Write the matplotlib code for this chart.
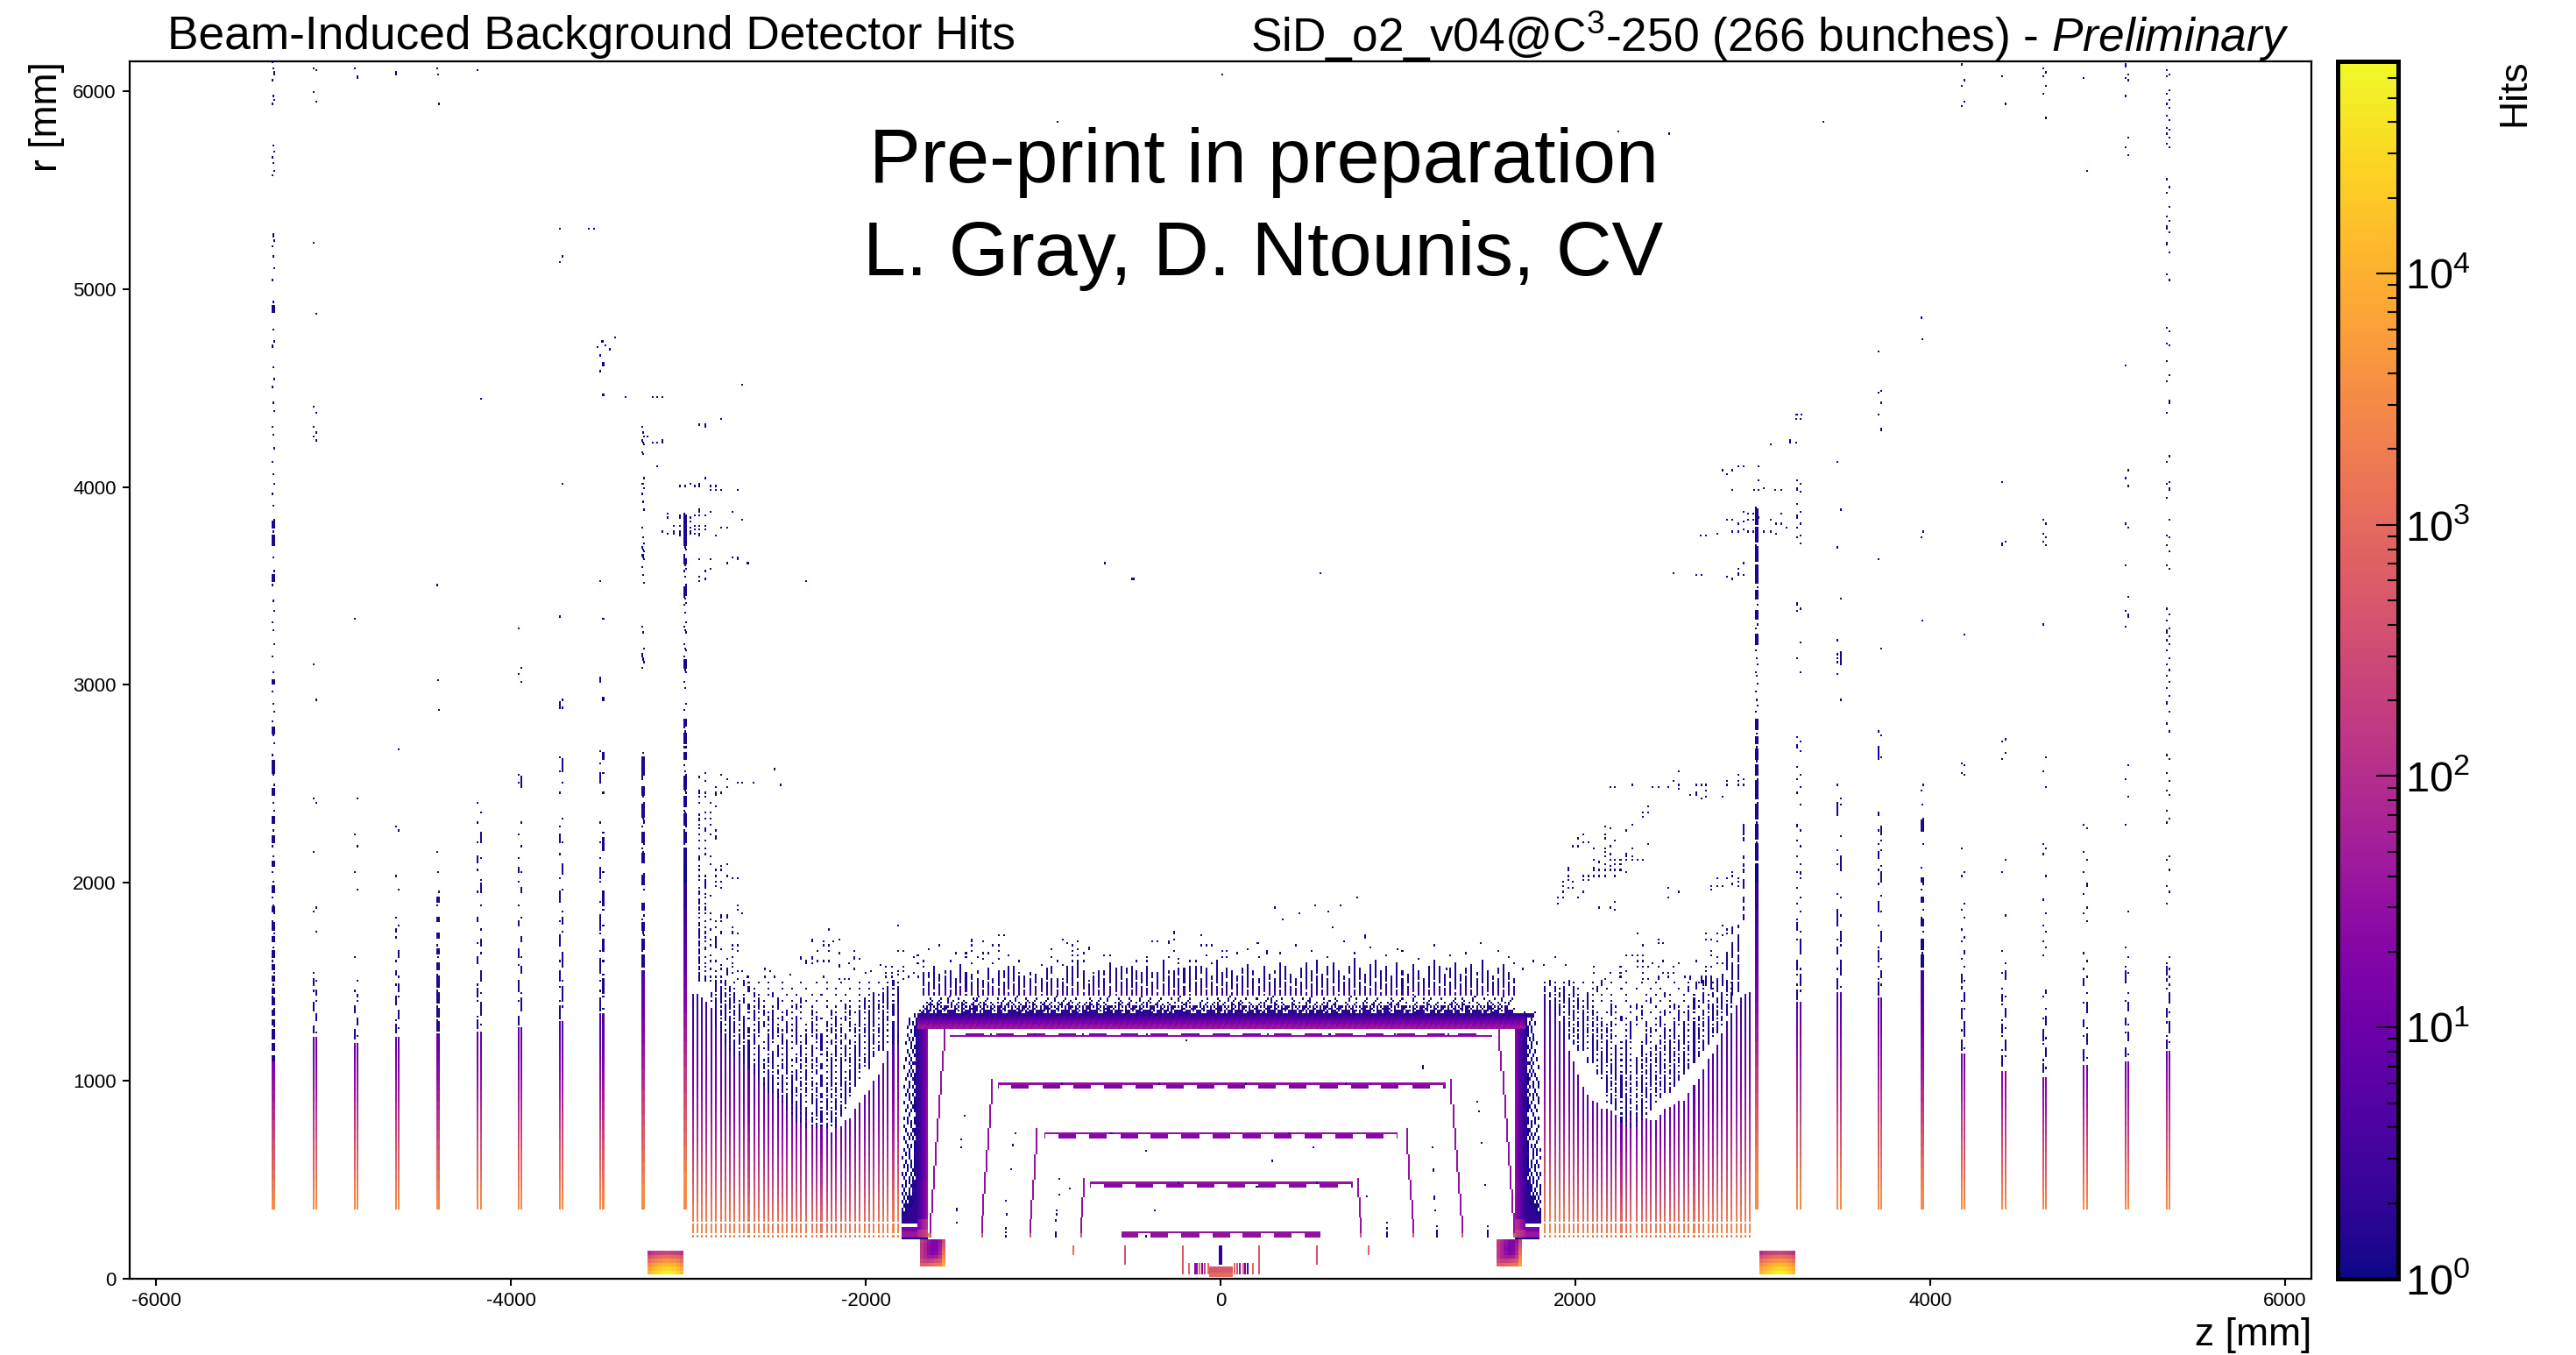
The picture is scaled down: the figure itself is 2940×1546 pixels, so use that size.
import numpy as np
import matplotlib
matplotlib.use("Agg")
import matplotlib.pyplot as plt
from matplotlib.colors import LogNorm
from matplotlib.ticker import FixedLocator, FixedFormatter, NullFormatter

plt.rcParams['font.family'] = ['Liberation Sans', 'DejaVu Sans']
plt.rcParams['mathtext.fontset'] = 'custom'
plt.rcParams['mathtext.rm'] = 'Liberation Sans'
plt.rcParams['mathtext.it'] = 'Liberation Sans:italic'
plt.rcParams['mathtext.default'] = 'regular'
plt.rcParams['axes.unicode_minus'] = False

# All values below are estimates (z, r in mm).
X_TICKS = [-6000, -4000, -2000, 0, 2000, 4000, 6000]
Y_TICKS = [0, 1000, 2000, 3000, 4000, 5000, 6000]
Z_LIM = (-6150, 6150)
R_LIM = (0, 6150)
V_MAX = 69800

TITLE_LEFT = "Beam-Induced Background Detector Hits"
TITLE_RIGHT = "SiD_o2_v04@C$^{3}$-250 (266 bunches) - $\\mathit{Preliminary}$"
NOTE_1 = "Pre-print in preparation"
NOTE_2 = "L. Gray, D. Ntounis, CV"

# ---- muon endcap layers ----
MUON_R_EDGES = [350,400,450,500,550,600,650,700,750,800,850,900,950,1000,1050,1100,1150,1200,1250,1300,1350,1400,1450,1500]
MUON_HITS = [3200,2300,1600,1100,750,520,360,250,170,110,75,50,35,25,18,13,9,7,5,4,3,2,2,1]

MUON_L_Z = [-5340,-5108,-4874,-4644,-4410,-4181,-3949,-3719,-3488,-3253,-3021]
MUON_L_THICK = [1,0,0,0,1,0,0,0,0,1,1]
MUON_L_TOP = [1100,1215,1190,1220,1240,1250,1265,1300,1340,1560,2100]
MUON_L_STRETCH = [1,1,1,1,1,1,1,1,1,.85,.75]
MUON_L_DOTS = [
 [6139,6107,6085,6048,5974,5952,5933,5716,5693,5664,5634,5590,5568,5265,5236,5206,5162,5103,5044,4926,4911,4897,4793,4727,4705,4600,4540,4500,4420,4380,4300,4260,4190,4120,4060,4010,3960,3900,3830,3800,3770,3740,3700,3640,3570,3500,3420,3370,3310,3270,3200,3140,3060,3010,2960,2900,2860,2810,2740,2700,2640,2610,2590,2570,2540,2490,2440,2400,2360,2300,2260,2220,2180,2130,2090,2050,2000,1960,1920,1880,1840,1800,1770,1740,1700,1670,1640,1600,1570,1540,1510,1480,1450,1420,1390,1360,1330,1300,1270,1240,1210,1180,1150,1120],
 [6114,6095,5989,5944,5232,4867,4400,4370,4300,4270,4250,4230,3100,2920,2420,2400,2150,1870,1850,1750,1540,1500,1450,1400,1350,1300,1270,1240],
 [6107,6065,3330,2420,2240,2180,2050,1960,1620,1500,1450,1400,1350,1300,1250,1220],
 [6085,2670,2280,2260,2030,1960,1820,1780,1720,1650,1600,1520,1480,1420,1380,1350,1300,1260,1235],
 [6107,6080,5927,3500,3020,2870,2150,2050,1950,1880,1800,1740,1680,1620,1560,1530,1500,1470,1450,1420,1400,1370,1350,1320,1300,1270],
 [6102,4440,2400,2350,2300,2250,2200,2120,2060,2010,1950,1880,1800,1760,1690,1640,1590,1540,1480,1440,1400,1360,1320,1280],
 [3280,3080,3050,3010,2540,2520,2500,2300,2240,2180,2120,2050,2000,1950,1880,1820,1780,1700,1660,1620,1580,1540,1480,1440,1400,1350,1310],
 [5295,5155,5133,4010,3340,2920,2900,2880,2630,2600,2560,2500,2450,2320,2280,2200,2140,2090,2020,1960,1900,1850,1800,1750,1700,1640,1600,1570,1530,1500,1470,1450,1400,1370,1340],
 [4660,4610,3521,3326,3034,4624,4579,4457,3012,2925,2660,2630,2600,2550,2500,2450,2300,2250,2200,2160,2120,2050,2000,1950,1900,1860,1820,1780,1740,1700,1650,1600,1560,1530,1500,1470,1450,1420,1390,1360],
 [4296,4274,4252,4234,4215,4213,4172,4163,4043,4012,4008,3990,3964,3920,3880,3787,3742,3711,3694,3676,3667,3650,3645,3626,3586,3548,3508,3286,3264,3176,3145,3125,3108,3078,2646,2616,2587,2564,2553,2525,2480,2461,2443,2429,2398,2378,2365,2350,2336,2318,2305,2284,2250,2232,2218,2203,2188,2173,2151,2129,2114,2097,2038,2015,1989,1958,1893,1863,1827,1809,1794,1778,1760,1745,1726,1700,1690,1670,1650,1630,1610,1590,1570],
 [3862,3849,3834,3804,3782,3769,3760,3754,3745,3736,3727,3716,3711,3694,3680,3645,3632,3627,3610,3598,3583,3568,3543,3503,3490,3472,3450,3438,3428,3406,3397,3362,3308,3286,3269,3255,3202,3184,3171,3140,3118,3109,3091,3074,3056,3007,2981,2897,2870,2812,2790,2777,2759,2746,2733,2702,2683,2675,2653,2649,2591,2564,2542,2525,2511,2479,2469,2461,2454,2432,2402,2378,2361,2350,2336,2318,2299,2281,2255,2240,2218,2188,2166,2144,2120,2110],
]
MUON_L_RUNS = [
 [(1100,1130),(1150,1190),(1210,1260),(1280,1310),(1330,1360),(1380,1420),(1440,1470),(1500,1530),(1560,1590),(1620,1660),(1700,1730),(1760,1800),(1850,1880),(1950,1990),(2080,2110),(2200,2240),(2300,2340),(2440,2480),(2550,2620),(2750,2790),(3000,3030),(3520,3560),(3700,3760),(3790,3830),(4880,4920)],
 [(1240,1280),(1300,1340),(1360,1400),(1430,1460),(1480,1520)],
 [(1210,1250),(1280,1320),(1340,1380),(1420,1440)],
 [(1240,1290),(1310,1360),(1390,1430),(1450,1490),(1530,1560),(1620,1650),(1750,1770)],
 [(1250,1300),(1320,1370),(1390,1450),(1470,1530),(1560,1600),(1640,1670),(1720,1750),(1800,1830),(1900,1930)],
 [(1260,1310),(1330,1400),(1420,1470),(1500,1560),(1600,1630),(1680,1720),(1800,1830),(1950,2000),(2100,2140),(2200,2260)],
 [(1280,1330),(1350,1420),(1450,1510),(1540,1580),(1620,1660),(1700,1730),(1780,1810),(1950,1980),(2050,2080),(2480,2540)],
 [(1310,1380),(1400,1480),(1500,1560),(1580,1640),(1680,1740),(1790,1830),(1900,1960),(2040,2090),(2200,2250),(2560,2630),(2880,2920)],
 [(1350,1420),(1440,1520),(1540,1620),(1650,1720),(1760,1840),(1880,1950),(2020,2080),(2160,2230),(2500,2560),(2620,2660),(3010,3040)],
 [(1570,1640),(1660,1720),(1760,1800),(1860,1900),(1990,2040),(2100,2150),(2200,2260),(2330,2400),(2440,2490),(2540,2640)],
 [(2100,2180),(2200,2260),(2290,2350),(2380,2440),(2470,2540),(2620,2660),(2700,2760),(2790,2830),(3080,3130),(3450,3500),(3610,3640),(3700,3860)],
]

MUON_R_Z = [3023,3259,3486,3718,3955,4187,4415,4647,4874,5112,5343]
MUON_R_THICK = [1,0,0,0,1,0,0,0,0,0,0]
MUON_R_TOP = [2100,1400,1450,1415,1560,1140,1050,1020,1080,1100,1150]
MUON_R_STRETCH = [.75,.9,.9,.9,.9,1,1.05,1.1,1.05,1.05,1]
MUON_R_DOTS = [
 [3888,3870,3850,3820,3790,3770,3750,3740,3720,3700,3680,3660,3640,3620,3600,3577,3520,3490,3470,3450,3400,3360,3340,3300,3280,3240,3210,3170,3130,3100,3060,3040,3000,2960,2920,2890,2860,2812,2800,2770,2750,2720,2700,2680,2660,2640,2610,2590,2570,2550,2520,2490,2470,2450,2430,2420,2400,2380,2360,2340,2320,2300,2290,2270,2250,2240,2220,2200,2180,2160,2150,2130,2110],
 [4360,4339,4028,4006,3985,3972,3909,3867,3845,3809,3787,3753,3738,3710,3405,3383,3366,3207,3126,3061,2730,2710,2685,2661,2582,2538,2523,2483,2453,2394,2285,2260,2206,2183,2127,2088,2048,2018,1969,1920,1890,1850,1811,1752,1712,1650,1600,1560,1530,1510,1480,1450,1420],
 [4118,3884,3693,3431,3216,3158,3148,3138,3128,3118,3108,3098,3046,2918,2493,2424,2404,2388,2345,2226,2163,2127,2092,2068,1935,1920,1860,1827,1781,1752,1712,1682,1640,1600,1560,1530,1500,1470],
 [4682,4478,4468,4420,4360,4285,3630,3175,2760,2740,2677,2631,2345,2281,2256,2206,2186,2157,2121,2078,2058,2009,1989,1933,1900,1850,1781,1732,1672,1613,1570,1540,1510,1480,1450],
 [4850,4736,3770,3738,3319,2493,2459,2394,2315,2281,2262,2192,2068,2018,1989,1959,1906,1860,1821,1781,1752,1702,1643,1603,1580],
 [6132,6050,6024,5938,5917,3250,2602,2592,2552,2538,2167,2048,2034,1890,1860,1821,1762,1722,1702,1643,1613,1574,1534,1495,1465,1435,1396,1356,1317,1287,1250,1220,1190,1160],
 [6067,5934,4017,3720,3705,2716,2710,2651,2617,2107,2052,1827,1649,1593,1544,1514,1455,1415,1376,1336,1297,1257,1218,1180,1150,1120,1080],
 [6110,6089,6067,6024,5977,5857,3834,3813,3764,3738,3716,3699,3302,2631,2556,2479,2192,2171,2137,2028,1910,1841,1781,1752,1696,1669,1633,1445,1415,1356,1307,1277,1238,1208,1178,1139,1100,1060],
 [6063,5590,2289,2266,2147,2107,2048,1985,1935,1870,1841,1795,1643,1603,1564,1524,1485,1435,1386,1336,1297,1257,1218,1178,1140,1110],
 [6125,6078,6063,6046,5971,5762,5713,5670,4614,4081,4038,3995,3806,3791,3602,3441,3366,3345,3287,2586,2523,2434,2289,1850,1672,1623,1574,1544,1494,1435,1396,1356,1307,1277,1237,1198,1158,1130],
 [6099,6084,6067,6003,5981,5949,5928,5906,5874,5848,5814,5795,5777,5762,5734,5706,5548,5509,5477,5412,5359,5337,5305,5279,5225,5176,5069,5041,4800,4783,4719,4708,4629,4564,4526,4425,4371,4146,4124,4023,4006,3985,3935,3828,3748,3742,3695,3673,3598,3577,3383,3351,3323,3283,3265,3237,3218,3201,3173,3130,3104,3072,3040,3014,2975,2939,2905,2864,2800,2760,2641,2617,2552,2513,2463,2444,2355,2315,2301,2127,2107,2064,1979,1953,1890,1617,1593,1564,1544,1524,1505,1475,1455,1386,1356,1336,1293,1247,1218,1190,1165],
]
MUON_R_RUNS = [
 [(2110,2200),(2220,2300),(2320,2400),(2420,2520),(2540,2600),(2620,2680),(2700,2740),(2770,2830),(3200,3260),(3330,3380),(3430,3480),(3510,3610),(3620,3700),(3720,3800),(3810,3890)],
 [(1410,1460),(1480,1540),(1560,1610),(1640,1720),(1760,1800),(2040,2060)],
 [(1460,1520),(1540,1600),(1640,1680),(1700,1750),(1790,1860),(2060,2130),(2360,2400),(3100,3160)],
 [(1430,1500),(1520,1560),(1600,1660),(1700,1760),(1850,1900),(2000,2060),(2120,2160),(2240,2290),(2620,2680)],
 [(1570,1640),(1660,1720),(1780,1820),(1900,1930),(2000,2030),(2260,2320)],
 [(1150,1210),(1230,1290),(1310,1370),(1400,1450),(1490,1530),(1640,1660)],
 [(1070,1130),(1150,1210),(1240,1290),(1320,1370),(1400,1440),(1510,1560)],
 [(1040,1090),(1120,1170),(1200,1260),(1290,1330)],
 [(1100,1160),(1190,1240),(1270,1310),(1350,1400),(1480,1520)],
 [(1120,1170),(1200,1250),(1280,1320),(1350,1400),(1500,1560)],
 [(1160,1210),(1240,1300),(1320,1370),(1400,1450),(1530,1580)],
]

# ---- hadronic endcap comb ----
HCAL_Z = [2982,2956,2930,2903,2877,2849,2822,2796,2770,2743,2717,2689,2663,2636,2610,2582,2556,2529,2501,2475,2449,2422,2394,2368,2342,2305,2279,2253,2226,2200,2174,2146,2119,2093,2065,2039,2012,1986,1958,1931,1905,1879,1851,1824]
HCAL_L_TOP = [1435,1435,1420,1400,1370,1265,1250,1236,1206,1147,1147,1147,1117,1088,1044,1014,955,955,955,926,926,941,882,882,852,778,763,778,763,734,763,763,793,808,852,882,926,941,1000,1029,1088,1147,1265,1420]
HCAL_R_TOP = [1450,1440,1420,1380,1340,1300,1240,1180,1140,1110,1060,1010,980,940,900,900,880,870,860,830,800,800,810,830,840,830,810,800,830,850,860,860,890,900,930,970,1030,1100,1150,1240,1300,1360,1400,1430]
HCAL_R_EDGES = [210,250,300,350,400,450,500,550,600,650,700,750,800,850,900,950,1000,1050,1100,1150,1200,1250,1300,1350,1400,1450]
HCAL_HITS = [3000,2300,1600,1050,700,460,310,200,140,95,70,48,35,25,18,13,10,8,6,5,4,3,2.5,2,1.5,1]
HCAL_GAP_R = [220,280]
HCAL_MAP_R = [1480,1450,1420,1390,1360,1330,1300,1270,1240,1210,1180,1150,1120,1090,1060,1030,1000,970,940,910,880,850,820,790,760]
HCAL_L_MAP = [
 "     |.| . |. . .  .   .  . .  .   . . . .|.||.",
 "     ||.|.  |.  .  . .  .   . .  . . .  .|.| ||",
 "    |.||.| . |. .|  . .  . .  . .  . .|.||.||",
 "    .||.||.| .|.  |. . |. . .  . . .|.|.||.|",
 "     |.||.| |.|. .|  .|. .  . . |. .|.||.||",
 "     |||.|| .|.|.| .|. . |.  |. .|.|.||.|.|",
 "     |.||.||.|. ||.| .|. .|. .|.|. |.||.||",
 "     ||.||.| .||.|. |.| .|. |.|. |.|.||.|.|",
 "      |.||.||.| .||.|.| .|. .|.| .|.||.||.|",
 "       ||.||.|. ||.| .|.|.||. |.| .|.||.|.||",
 "       |.||.|| .|. ||.|.| .|.|.| |.|.||.|.||",
 "        ||.||.|.| |.|. |.|.|. |.|.||.|.||",
 "         |.||.| .||.| .|.| .|.|.|.||.||",
 "           ||.|.|| .|.|.|.| .|.|.||.||",
 "            |.||.|.||. |.|.|.|.| .||.|",
 "             ||.|.| |.|.|.| .|.|.||.",
 "              |.||.|.||.|. |.|.|.||.",
 "               .||.|.| |.|.|.|.||.|",
 "                ||.|.||.|.| |.|.||",
 "                  |.||.|.|.|.|.||.",
 "                   .||.|.||.|.|.|",
 "                    |.||. |.|.||.",
 "                     .|.|.||.|.|",
 "                      ||.|.|.||",
 "                        |.|.|.|",
]
HCAL_R_MAP = [
 "    .|  . |. .  .   .  .  .  . | . . .|. .|.|.",
 "    .| |. .  | .   . .  .  .  . |.  .| |.| |.",
 "    |.| |.| . .  .| . .   .  . . .| .|.||.|.|",
 "    |.|| .|.| .  . . |.   .  . . .|.|.||.|.",
 "    .||.|| .|. .|.  .  .|.  .|   .|.|.|.||",
 "     |.||.| .|.| .|. . | .  .|. .|.|.||.||",
 "      |.||.|.| |.  |.  .| .|.  .|.||.|.|",
 "      .|.||.|.|.| .|. | .|. .|.|.|.||.||",
 "       |||.||.| |.| .|.  |.  .|.|.||.|.|",
 "        .|.||.|.|.|. .|  |. .|.|.|.||.||",
 "         ||.|.||.|.| .|. .|. .|.||.|.|",
 "          |.||.|.||.|. | .|.|.|.||.||",
 "           ||.|.||.|.|.| .|.|.||.|",
 "            |.||.|.||.|.|.|.|.||.||",
 "             ||.|.||.|.||.|.||.|.",
 "              |.||.|.||.|.|.||.||",
 "               ||.|.||.|.|.||.|.",
 "                |.||.|.||.||.||",
 "                 ||.|.||.|.||.|",
 "                   |.||.|.||.|.",
 "                    .|.|.||.||.",
 "                     |.||.|.|",
 "                      .|.||.",
 "                       .|.||",
 "                        .|.",
]

# sparse hits above the left comb
L_COMB_Z = [-2943,-2908,-2878,-2849,-2819,-2785,-2755,-2725]
L_COMB_DOTS = [
 [2533,2463,2449,2427,2401,2343,2321,2312,2290,2269,2241,2210,2173,2125,2107,2082,2060,2033,2007,1971,1945,1905,1891,1874,1856,1841,1819,1785,1763,1745,1726,1715,1700,1690,1680,1657,1645,1636,1620,1605,1590,1570,1555,1540,1525,1510,1500],
 [2551,2511,2454,2427,2347,2316,2269,2256,2210,2173,2139,2029,2011,2000,1990,1980,1971,1937,1922,1891,1865,1838,1804,1767,1745,1716,1697,1674,1657,1623,1590,1568,1546,1524,1510,1500],
 [2396,2347,2316,2290,2237,2126,2091,1927,1838,1812,1763,1708,1679,1626,1595,1555,1524,1502],
 [2476,2454,2443,2378,2256,2225,2063,2029,1998,1976,1798,1767,1723,1712,1700,1690,1679,1668,1595,1550,1524,1502],
 [2538,2454,2077,2060,1998,1967,1825,1798,1745,1657,1581,1555,1524,1502],
 [2520,2476,2091,2029,1825,1608,1561,1550,1540,1530],
 [2015,1767,1745,1683,1657,1621,1590,1568,1539],
 [2502,2020,1883,1856,1744,1679,1648,1546,1509],
]
SCATTER_Z = [-3449,-3360,-3205,-3180,-3151,-2701,-2820,-2943,-2909,-3235,-3205,-3180,-3151,-3180,-2909,-3057,-3027,-2997,-2968,-2943,-2943,-2879,-2849,-2879,-2849,-2820,-2726,-2943,-2943,-2879,-2755,-3121,-3057,-2968,-2943,-2909,-3121,-3057,-2997,-2997,-2701,-3086,-3057,-2968,-2943,-2909,-2820,-2785,-2997,-2968,-2943,-2909,-3151,-3086,-3057,-3121,-3057,-3086,-3057,-2997,-2997,-2968,-2943,-2943,-2849,-2943,-2879,-2755,-2726,-2726,-2785,-2671,-2909,-2879,-2943,-2909,-2943,-2340,-3565,-3535,-3421,-3489,-3477,-3515,-655,-505,-495,560,3,-923,2240,
 -2701,-2641,-2518,-2483,-2701,-2701,-2671,-2577,-2577,-2547,-2518,-2429,-2370,-2370,-2340,-2340,-2305,-2305,-2305,-2305,-2276,-2276,-2246,-2246,-2246,-2246,-2216,-2216,-2216,-2216,-2192,-2157,-2157,-2157,-2157,-2157,-2127,-2098,-2098,-2068,-2068,-2068,-2068,-2038,-2004,-1974,-1920,-1890,-1890,-1890,-1856,-1856,-1856,-1826,-1826,-1826,-1826,-1796,-1796,-1796,-1796,-1767,-1737,-1737,-1712,-1712,-1712,-1678,-1678,-1678,-1648,-1648,-1619,-1619,-1589,-1554,-1525,-1525,-1495,-1495,-1470,-1470,-1470]
SCATTER_R = [4686,4446,4446,4454,4452,4513,4340,4309,4305,4252,4216,4216,4225,4101,4039,3995,4004,4008,4004,4008,3995,4004,4004,3982,3982,3982,3982,3880,3866,3866,3866,3862,3853,3853,3849,3853,3840,3840,3835,3818,3831,3800,3800,3800,3804,3800,3791,3791,3787,3778,3782,3782,3769,3773,3769,3760,3756,3756,3751,3765,3756,3760,3760,3751,3751,3632,3632,3640,3640,3632,3610,3614,3570,3578,3539,3530,3517,3517,5300,5300,4749,4727,4712,4697,3614,3530,3530,3560,6075,5838,5790,
 2502,2502,2569,2494,1843,1546,1524,1555,1524,1546,1515,1528,1621,1608,1604,1590,1705,1623,1608,1590,1649,1595,1697,1679,1595,1515,1759,1679,1652,1595,1701,1714,1635,1581,1568,1509,1509,1590,1509,1652,1621,1608,1559,1608,1541,1546,1577,1573,1541,1515,1573,1541,1515,1781,1652,1550,1528,1652,1568,1546,1509,1515,1621,1537,1626,1590,1515,1595,1568,1530,1657,1520,1568,1530,1679,1530,1604,1530,1639,1515,1580,1545,1510]

# sparse hits above and beyond the right comb
R_SCATTER_Z = [2581,2551,2581,2581,2314,2195,2220,2432,2467,2521,2675,2704,2729,2852,2852,2917,2917,2917,2946,2946,2645,2675,2675,2729,2704,2729,2823,2403,2403,2373,2373,2314,2166,2195,2279,2042,2012,2166,2166,2042,2072,2220,2403,1978,2012,2101,2166,2195,2314,2166,2166,2195,2279,2279,2314,2101,2195,2220,2250,2279,2314,2343,2373,2131,2131,2166,2166,2195,2220,2250,2101,2195,2220,2250,2279,1953,1953,2042,2072,2101,2131,2166,2220,2042,2072,1953,1924,1978,1924,1953,1978,1924,2042,1894,1924,2012,1894,2131,2195,2220,2220,2521,2581,2521,2759,2759,2793,2793,2823,2852,2882,2882,2882,2917,2917,2917,
 3396,2523,3242,3271,3242,3095,3207,3242,2824,2851,2882,2917,2945,3029,3029,2882,3003,3029,3060,3121,3154,2851,2882,2945,2945,2970,2970,3001,3001,2917,3029,3095,3126,3154,3154,3183,2882,2917,2945,2970,3001,3060,3095,3126,2702,2728,2794,2945,2917,2917,2945,2917,2851,2882,2552,2675,2704,
 2343,2467,2467,2492,2373,2279,2314,2343,2373,2343,2373,2343,2373,2403,2432,2492,2467,2581,2551,2101,2250,2195,2250,2279,2373,2492,2521,2551,2101,2166,2250,2373,2403,2467,2467,2521,2615,2645,2645,2729,2759,2729,2729,2759,2675,2729,2729,2759,2793,2823,2852,2852,2823,2793,2759,2759,2793,2793,2823,
 300,439,532,606,670,763,346,625,207,810,254,995,1458,1272]
R_SCATTER_R = [2555,2511,2493,2471,2489,2476,2476,2476,2480,2480,2493,2493,2493,2507,2489,2542,2507,2489,2524,2489,2440,2454,2440,2462,2423,2431,2431,2378,2352,2352,2330,2288,2281,2272,2259,2237,2223,2237,2223,2201,2201,2206,2192,2175,2175,2170,2170,2179,2170,2148,2130,2144,2139,2130,2130,2113,2113,2108,2113,2108,2113,2113,2113,2095,2060,2088,2064,2082,2091,2091,2065,2064,2060,2060,2046,2065,2033,2033,2033,2033,2029,2033,2033,2011,2011,2011,2002,2002,1980,1974,1971,1949,1949,1918,1922,1922,1887,1874,1874,1896,1860,1974,1949,1918,1984,1958,2015,1980,1984,2015,2051,2029,1986,2015,1998,1984,
 5842,5784,4358,4358,4339,4212,4225,4219,4083,4064,4075,4100,4100,4100,4034,3980,3978,3978,3991,3980,3980,3830,3830,3866,3819,3862,3830,3862,3830,3806,3839,3830,3808,3808,3862,3787,3774,3770,3780,3770,3770,3770,3770,3755,3753,3753,3757,3609,3581,3549,3549,3561,3538,3534,3559,3549,3549,
 1736,1714,1688,1688,1679,1626,1626,1626,1626,1595,1595,1572,1568,1568,1586,1595,1572,1590,1568,1568,1568,1541,1541,1546,1541,1541,1541,1541,1541,1510,1515,1510,1510,1524,1510,1515,1515,1524,1510,1568,1568,1546,1524,1510,1603,1736,1714,1714,1736,1730,1736,1759,1781,1700,1652,1626,1620,1590,1590,
 1870,1836,1878,1853,1878,1920,1810,1770,1686,1725,1645,1660,1686,1561]
R_RUN_Z = [2946,2946,2946,2946,2946,2946,2946,2946,2946,2917,2917,2917,2917,2917,2882,2882,2882,2882,2852,2823,2793,2759,2729,2704,2675]
R_RUN_LO = [2237,2210,2122,2077,2047,1967,1900,1856,1811,1770,1650,1600,1510,1450,1740,1620,1510,1430,1560,1480,1470,1460,1480,1490,1460]
R_RUN_HI = [2303,2228,2139,2099,2068,2015,1927,1885,1841,1789,1740,1640,1590,1500,1775,1700,1600,1500,1650,1540,1520,1530,1530,1530,1500]

# ---- noise above the barrel calorimeter ----
BARREL_MAP_R = [1325,1345,1365,1385,1405]
BARREL_MAP_Z0 = -1720
BARREL_MAP = [
 " :#:##:###:##:#####:###:####:##:###:#####:###:##:####:###:#####:##:####:###:###:#####:##:####:###:####:##:#####:###:##:####:###:#####:##:###:####:###:##:#####:###:####:###:##:",
 " .:#.:#:.##:.:#:#.:##:.#:.##:#.:#:##.:#:.##:#:.#:##:.:#:##.#:.#:##:.#:#.:##:#:.#:.##:#.:#:##:.#:#.:##:#:.##:#.:#:##.:#:.##:#.:##:.#:#:.##:#.:##:.#:#.##:#:.#:##:#.:#:.##:",
 "  .::.:.#..:.:.:#:.:.:.#.:.:.:#..:.:#:..:.:#.:.:#:.:.:#..:.:.#.:..#:.:.:#..:..#..:.:.#:..:.:#.:.:..#.:.:#.:..#..:.:#.:.#.:.:..#.:.:.#:.:.#..:.#.:.:.#.:.:.:#..:..#:.:.#",
 "   .: :. .: .:. : .: . .: :. . :.: .: . .: :. . .: : .  .:. : . .:. :  . . .:.  : . .: . : :. .  .: .: .  : . :. . .: :  .  . :. : . .: : .  . .:  . . :. : . .  :. . .: ",
 "    .  . :  .   .:  .  . .  :  .  .  . :  .  .   .  . :  .  .  :  .  .  . :  .    .  .  : .  .  .  .:  .  .  . :   .  .   : .  .  .   .  .  :  . .  .   . .  :  .  . :  . ",
]
BARREL_COL_Z = [-1678,-1648,-1619,-1589,-1555,-1525,-1495,-1471,-1441,-1411,-1377,-1347,-1317,-1288,-1253,-1223,-1199,-1169,-1140,-1110,-1075,-1046,-1016,-986,-962,-927,-897,-868,-838,-809,-774,-744,-720,-690,-660,-626,-596,-566,-537,-507,-482,-448,-418,-389,-359,-324,-295,-265,-240,-211,-181,-146,-117,-87,-57,-23,7,31,
 61,91,121,151,181,211,241,271,301,331,361,391,421,451,481,511,541,571,601,631,661,691,721,751,781,811,841,871,901,931,961,991,1021,1051,1081,1111,1141,1171,1201,1231,1261,1291,1321,1351,1381,1411,1441,1471,1501,1531,1561,1591,1621,1651]
BARREL_COL_TOP = [1546,1546,1568,1539,1558,1558,1531,1590,1553,1539,1561,1509,1568,1524,1561,1561,1575,1575,1546,1531,1546,1539,1524,1568,1575,1516,1516,1575,1575,1598,1561,1509,1546,1561,1561,1590,1568,1575,1572,1575,1561,1546,1583,1546,1546,1598,1561,1561,1572,1572,1575,1575,1575,1568,1531,1598,1546,1568,
 1560,1530,1570,1590,1555,1520,1575,1540,1565,1600,1580,1545,1525,1570,1595,1560,1610,1540,1575,1600,1560,1530,1585,1620,1570,1545,1590,1610,1555,1575,1530,1600,1565,1540,1590,1560,1530,1575,1610,1585,1545,1570,1600,1540,1570,1590,1550,1610,1560,1530,1570,1590,1550,1520]
BARREL_COL_GAP = [1470,1505,1450,1490,1530,1462,1515,1480,1440,1500,1525,1458,1495,1475]
BARREL_DOT_Z = [-1826,-1826,-1797,-1920,-1891,-1856,-1797,-1737,-1713,-1713,-1678,-1648,-1589,-1525,-1495,-1441,-1441,-1411,-1411,-1411,-1411,-1377,-1347,-1347,-1347,-1317,-1288,-1288,-1253,-1223,-1253,-1253,-1253,-1199,-1140,-1016,-962,-962,-927,-897,-897,-868,-838,-838,-838,-838,-809,-809,-809,-809,-774,-774,-744,-660,-626,-626,-482,-418,-418,-389,-359,-324,-295,-295,-295,-265,-265,-265,-240,-240,-181,-146,-117,-117,-87,-57,-87,-57,-23,7,7,31,31,
 91,151,211,331,421,511,601,691,751,841,931,1021,1111,1201,1291,1381,1471,1561,1621,1651,1700,1760,1820,1880,1940]
BARREL_DOT_R = [1781,1648,1648,1577,1572,1572,1568,1621,1626,1590,1595,1655,1679,1603,1639,1639,1621,1705,1679,1652,1590,1617,1701,1639,1612,1637,1679,1590,1732,1732,1679,1648,1608,1626,1595,1577,1661,1621,1595,1711,1577,1688,1679,1646,1627,1595,1701,1657,1634,1595,1639,1603,1665,1626,1634,1586,1595,1621,1595,1701,1701,1595,1701,1688,1620,1745,1714,1652,1608,1590,1603,1603,1732,1683,1683,1683,1626,1590,1595,1648,1617,1648,1617,
 1640,1660,1620,1640,1680,1650,1620,1700,1640,1670,1630,1650,1610,1680,1630,1640,1600,1650,1620,1590,1560,1600,1575,1620,1580]

# ---- calorimeter "tub" around the trackers ----
TUB_Z_LEFT_INNER = -1650
TUB_Z_RIGHT_INNER = 1660
TUB_R_EDGES = [210,250,300,500,1000,1258]
TUB_HITS = [
 [300,200,150,120,100,80],
 [100,80,60,40,25,15],
 [30,20,12,7,4,3],
 [25,15,8,5,3,2],
 [20,12,7,4,3,2],
]
TUB_TOP_R = [1258,1268,1278,1288,1298,1308,1318,1328]
TUB_TOP_HITS = [40,35,25,15,9,5,3,2]
TUB_TEXTURE = [1.2,.8,1.0,1.4,.7,1.1,.9,1.3,.75,1.05,1.25,.85,.95,1.15]
TUB_FOOT_R = [210,235,260]
TUB_FOOT_HITS = [40,15]
TUB_MAP_R_TOP = 1320
TUB_L_MAP = [
 "       + ","    +   #","    + + +","   +   ##","     + +#","   +   +#","    + + #","  +  +  +","     + +#",
 "   +  + #","    +  +#","  +  +  #","    + +##"," +   +  #","    + + #","   + + +#","  +   #+#","    +  +#",
 " +  + + #","   +   +#","  + + + #","    +  +#"," +   + +#","   +  ++#","  +  + +#","    +   #"," + +   +#",
 "   + + +#"," +   +  #","  +   #+#","   + + +#"," +  + + #","  +    +#","   + + +#"," +  +  +#","  + +  ##",
 "+   +  +#","  +  + +#"," + + + +#","   +  +##","+ +  + +#"," +  + + #","  + + +##","+ +  +#+#"," +  + ###",
 "+ + + +##"," + +#+###","+ + +#+##"," +#+#+###","+ +######","+#+######","#########","#########",
]
TUB_R_MAP = [
 "+        ","#  +     ","+ +  +   ","## +     ","#+ +     ","#+  +    ","# + +    ","+  +  +  ","#+ +     ",
 "# +  +   ","#+  +    ","#  +  +  ","##+ +    ","#  +   + ","# + +    ","#+ + +   ","#+#   +  ","#+  +  + ",
 "# + +  + ","#+   +   ","# + + +  ","#+  +  + ","#+ +   + ","#++  +   ","#+ +  +  ","#   +    ","#+   + + ",
 "#+ + +   ","#  +   + ","#+#   +  ","#+ + +   ","# + +  + ","#+    +  ","#+ + +   ","#+  + + +","##  + +  ",
 "#+  +   +","#+ +  +  ","#+ + + + ","##+  +   ","#+ +  + +","# + +  + ","##+ + +  ","#+#+  + +","###+ +  +",
 "##+ + + +","###+#+ + ","##+#+ + +","###+#+#+ ","######+ +","######+#+","#########","#########",
]

# ---- tracker barrel layers ----
TRK_R = [1220,962,712,462,214]
TRK_RMID = [1230,976,726,476,229]
TRK_RTOP = [1240,990,740,490,243]
TRK_Z_L = [-1525,-1255,-995,-735,-561]
TRK_Z_R = [1530,1269,998,745,565]
TRK_UPPER_IS_SOLID = [0,1,1,1,1]
TRK_HITS_SOLID = [28,30,32,32,35]
TRK_HITS_BUMP = [14,18,22,25,30]
TRK_MODULE_Z = [-1387,-1217,-1040,-867,-690,-517,-343,-170,3,173,350,523,697,870,1043,1216,1390]
TRK_MODULE_SHIFT = [0,87,0,87,0]
TRK_MODULE_HALF = 50
TRK_SPECK_Z = [-1300,-1050,-780,-420,-130,260,610,980,1280,-900,-350,140,700,-1160,-620,380,-240,540]
TRK_SPECK_L = [0,0,0,0,0,0,0,0,0,1,1,1,1,2,2,2,3,3]

# ---- forward disks: stepped r edges and z of each step ----
DISK_R = [
 [208,330,450,570,690,810,930,1050,1150,1258],
 [208,320,430,540,650,760,880,1010],
 [208,300,400,500,630,758],
 [208,310,410,507],
 [208,310,410,507],
 [208,300,400,500,630,758],
 [208,320,430,540,650,760,880,1010],
 [208,330,450,570,690,810,930,1050,1150,1258],
]
DISK_Z = [
 [-1640,-1628,-1620,-1610,-1600,-1590,-1580,-1570,-1560],
 [-1352,-1345,-1335,-1325,-1315,-1305,-1295],
 [-1075,-1068,-1058,-1048,-1038],
 [-790,-783,-775],
 [785,780,772],
 [1080,1073,1065,1055,1045],
 [1362,1352,1342,1332,1322,1312,1297],
 [1650,1640,1630,1620,1610,1600,1590,1575,1563],
]
DISK_HITS = 32
DISK_FOOT_HITS = 500

# ---- isolated hits inside the trackers ----
ISO_Z = [-198,1134,-1446,-1463,-1467,-1175,-1186,-915,-857,-915,-1214,-1210,-1491,-1491,-1488,-1214,-1214,-1214,-929,-929,-936,-936,-936,-423,-423,520,284,201,-375,1442,1449,1466,1189,1196,1484,1199,1206,818,936,936,936,936,1213,1213,1213,1213,1501,1501,1501,1501]
ISO_R = [1196,1065,817,700,657,669,549,496,449,417,387,321,335,350,276,210,230,250,340,320,290,225,212,638,214,657,589,461,338,892,842,675,660,545,471,405,343,409,280,250,225,212,260,240,225,212,260,240,225,212]

# ---- very-forward boxes ----
OUTER_BOX_Z_L = -3230
OUTER_BOX_Z_R = 3040
OUTER_BOX_R0 = 15
OUTER_BOX_HITS = [
 [12000,20000,28000,38000,50000,65000,60000,45000,28000,15000],
 [7000,11000,16000,20000,26000,30000,28000,22000,15000,9000],
 [3000,5000,7000,9000,12000,13000,12000,10000,7000,4000],
 [1200,1800,2500,3200,4000,4500,4000,3500,2500,1500],
 [400,600,800,1000,1200,1300,1200,1000,800,500],
 [100,150,200,230,250,280,250,220,180,120],
]
INNER_BOX_Z_L = -1697
INNER_BOX_Z_R = 1555
INNER_BOX_R0 = 58
INNER_BOX_HITS = [
 [800,700,900,1200,1500,1800,8000],
 [300,200,180,250,350,500,5000],
 [150,80,50,45,60,150,2500],
 [150,70,30,20,25,80,1500],
 [150,70,25,15,20,60,800],
 [150,80,30,18,20,50,500],
 [200,100,35,20,20,40,300],
]

# ---- vertex / forward strips ----
STRIP_Z = [-835,-546,-215,210,541,832,-185,-151,-141,-126,-111,-96,-77,76,91,106,126,136,151,180,-8,2]
STRIP_R_LO = [117,72,22,22,72,117,18,18,18,18,18,18,18,18,18,18,18,18,18,18,70,70]
STRIP_R_HI = [173,173,173,173,173,173,80,80,80,80,80,80,80,80,80,80,80,80,80,80,168,168]
STRIP_HITS = [1100,400,500,500,400,900,1000,25,25,1200,20,250,1100,1100,400,30,1000,18,5,1000,2,2]
VTX_BAND_Z = (-67, 71)
VTX_BAND_R_LO = [14,30,50]
VTX_BAND_R_HI = [27,47,62]
VTX_BAND_HITS = [1100,450,500]

# ---------------------------------------------------------------------------
DZ, DR = 5, 10
NZ = int((Z_LIM[1] - Z_LIM[0]) / DZ)
NR = int((R_LIM[1] - R_LIM[0]) / DR)
H = np.full((NR, NZ), np.nan)


def put(z0, z1, r0, r1, v):
    a = int(round((z0 - Z_LIM[0]) / DZ))
    b = max(a + 1, int(round((z1 - Z_LIM[0]) / DZ)))
    c = int(round(r0 / DR))
    d = max(c + 1, int(round(r1 / DR)))
    H[c:d, a:b] = v


def dot(z, r, v=1):
    put(z, z + 10, r, r + 10, v)


def step_value(r, edges, vals):
    i = np.searchsorted(edges, r, side='right') - 1
    return vals[int(np.clip(i, 0, len(vals) - 1))]


def muon(zs, thick, tops, stretch, dots, runs):
    for z, th, top, k, rs, rn in zip(zs, thick, tops, stretch, dots, runs):
        strips = [(z - 10, z + 10)] if th else [(z - 13, z - 3), (z + 4, z + 14)]
        for r in range(350, top, 10):
            v = step_value(r * k, MUON_R_EDGES, MUON_HITS)
            for s0, s1 in strips:
                put(s0, s1, r, r + 10, v)
        for i, r in enumerate(rs):
            if th:
                dot(z - 10 + 5 * (i % 3), r)
            else:
                s0, s1 = strips[i % 2]
                dot(s0, r)
        for i, (lo, hi) in enumerate(rn):
            if th:
                put(z - 10, z + 10, lo, hi, 1.3)
            else:
                s0, s1 = strips[i % 2]
                put(s0, s1, lo, hi, 1.3)


muon(MUON_L_Z, MUON_L_THICK, MUON_L_TOP, MUON_L_STRETCH, MUON_L_DOTS, MUON_L_RUNS)
muon(MUON_R_Z, MUON_R_THICK, MUON_R_TOP, MUON_R_STRETCH, MUON_R_DOTS, MUON_R_RUNS)


def comb(sign, tops, cmap):
    for j, (az, top) in enumerate(zip(HCAL_Z, tops)):
        z = sign * az
        k = (1300 / top) ** 0.6
        for r in range(210, top, 10):
            put(z, z + 10, r, r + 10, step_value(r * k, HCAL_R_EDGES, HCAL_HITS))
        for g in HCAL_GAP_R:
            put(z, z + 10, g, g + 10, np.nan)
        for row, rr in zip(cmap, HCAL_MAP_R):
            if j < len(row):
                if row[j] == '|':
                    put(z, z + 10, rr, rr + 30, 1.3)
                elif row[j] == '.':
                    dot(z, rr + 10)


comb(-1, HCAL_L_TOP, HCAL_L_MAP)
comb(1, HCAL_R_TOP, HCAL_R_MAP)

for z, rs in zip(L_COMB_Z, L_COMB_DOTS):
    for r in rs:
        dot(z, r)
for z, r in zip(SCATTER_Z, SCATTER_R):
    dot(z, r)
for z, r in zip(R_SCATTER_Z, R_SCATTER_R):
    dot(z, r)
for z, lo, hi in zip(R_RUN_Z, R_RUN_LO, R_RUN_HI):
    put(z, z + 10, lo, hi, 1.3)

# barrel columns and specks
for i, (z, top) in enumerate(zip(BARREL_COL_Z, BARREL_COL_TOP)):
    put(z, z + 10, 1428, 1470, 2.5)
    put(z, z + 10, 1470, top, 1.4)
    g = BARREL_COL_GAP[i % len(BARREL_COL_GAP)]
    put(z, z + 10, g, g + 10, np.nan)
for z, r in zip(BARREL_DOT_Z, BARREL_DOT_R):
    dot(z, r)
for row, rr in zip(BARREL_MAP, BARREL_MAP_R):
    for j, ch in enumerate(row):
        z = BARREL_MAP_Z0 + 20 * j
        if ch == '#':
            put(z, z + 20, rr, rr + 20, 2)
        elif ch == ':':
            dot(z, rr, 1.5)
            dot(z + 10, rr + 10, 1)
        elif ch == '.':
            dot(z, rr + 5, 1)

# tub: side walls, top band, foot and scatter
for i in range(len(TUB_R_EDGES) - 1):
    for j in range(6):
        v = TUB_HITS[i][j]
        put(TUB_Z_LEFT_INNER - 10 * (j + 1), TUB_Z_LEFT_INNER - 10 * j, TUB_R_EDGES[i], TUB_R_EDGES[i + 1], v)
        put(TUB_Z_RIGHT_INNER + 10 * j, TUB_Z_RIGHT_INNER + 10 * (j + 1), TUB_R_EDGES[i], TUB_R_EDGES[i + 1], v)
for i, (rr, v) in enumerate(zip(TUB_TOP_R, TUB_TOP_HITS)):
    for j, z in enumerate(range(TUB_Z_LEFT_INNER - 60, TUB_Z_RIGHT_INNER + 60, 10)):
        t = TUB_TEXTURE[(j + 3 * i) % len(TUB_TEXTURE)]
        put(z, z + 10, rr, rr + 10, max(1, v * t))
for i, v in enumerate(TUB_FOOT_HITS):
    put(-1800, TUB_Z_LEFT_INNER - 60, TUB_FOOT_R[i], TUB_FOOT_R[i + 1], v)
    put(TUB_Z_RIGHT_INNER + 60, 1800, TUB_FOOT_R[i], TUB_FOOT_R[i + 1], v)
put(-1800, TUB_Z_LEFT_INNER, 205, 210, 1.2)
put(TUB_Z_RIGHT_INNER, 1800, 205, 210, 1.2)
put(TUB_Z_LEFT_INNER, TUB_Z_LEFT_INNER + 10, 210, 230, 3500)
put(TUB_Z_RIGHT_INNER - 10, TUB_Z_RIGHT_INNER, 210, 230, 3500)
for row_i, (lrow, rrow) in enumerate(zip(TUB_L_MAP, TUB_R_MAP)):
    rr = TUB_MAP_R_TOP - 20 * row_i
    for j, ch in enumerate(lrow):
        z = -1800 + 10 * j
        if ch == '#':
            put(z, z + 10, rr, rr + 20, 2)
        elif ch == '+':
            dot(z, rr + 5)
    for j, ch in enumerate(rrow):
        z = TUB_Z_RIGHT_INNER + 60 + 10 * j
        if ch == '#':
            put(z, z + 10, rr, rr + 20, 2)
        elif ch == '+':
            dot(z, rr + 5)

# tracker barrel
for l in range(5):
    lo, mid, hi = TRK_R[l], TRK_RMID[l], TRK_RTOP[l]
    z0, z1 = TRK_Z_L[l], TRK_Z_R[l]
    if TRK_UPPER_IS_SOLID[l]:
        put(z0, z1, mid, hi, TRK_HITS_SOLID[l])
        brow = (lo, mid)
    else:
        put(z0, z1, lo, mid, TRK_HITS_SOLID[l])
        brow = (mid, hi)
    for zm in TRK_MODULE_Z:
        c = zm + TRK_MODULE_SHIFT[l]
        a = max(z0, c - TRK_MODULE_HALF)
        b = min(z1, c + TRK_MODULE_HALF)
        if b > a:
            put(a, b, brow[0], brow[1], TRK_HITS_BUMP[l])
    for zs, li in zip(TRK_SPECK_Z, TRK_SPECK_L):
        if li == l:
            dot(zs, hi - 10, 2)

# forward disks
for rs, zs in zip(DISK_R, DISK_Z):
    for i, z in enumerate(zs):
        put(z, z + 10, rs[i], rs[i + 1], DISK_HITS)
    put(zs[0], zs[0] + 10, rs[0], rs[0] + 20, DISK_FOOT_HITS)

for z, r in zip(ISO_Z, ISO_R):
    dot(z, r)

# forward boxes
for i, row in enumerate(OUTER_BOX_HITS):
    for j, v in enumerate(row):
        rr = OUTER_BOX_R0 + 20 * i
        put(OUTER_BOX_Z_L + 20 * j, OUTER_BOX_Z_L + 20 * (j + 1), rr, rr + 20, v)
        put(OUTER_BOX_Z_R + 20 * j, OUTER_BOX_Z_R + 20 * (j + 1), rr, rr + 20, v)
for i, row in enumerate(INNER_BOX_HITS):
    for j, v in enumerate(row):
        rr = INNER_BOX_R0 + 20 * i
        put(INNER_BOX_Z_L + 21 * j, INNER_BOX_Z_L + 21 * (j + 1), rr, rr + 20, v)
        put(INNER_BOX_Z_R + 21 * j, INNER_BOX_Z_R + 21 * (j + 1), rr, rr + 20, v)

for z, lo, hi, v in zip(STRIP_Z, STRIP_R_LO, STRIP_R_HI, STRIP_HITS):
    put(z, z + 10, lo, hi, v)
for lo, hi, v in zip(VTX_BAND_R_LO, VTX_BAND_R_HI, VTX_BAND_HITS):
    put(VTX_BAND_Z[0], VTX_BAND_Z[1], lo, hi, v)

# ---------------------------------------------------------------------------
W, H_PX = 2940, 1546
fig = plt.figure(figsize=(W / 200, H_PX / 200), dpi=200, facecolor='white')


def box(x0, y0, x1, y1):
    return [x0 / W, 1 - y1 / H_PX, (x1 - x0) / W, (y1 - y0) / H_PX]


ax = fig.add_axes(box(148, 70, 2638, 1459))
cmap = plt.get_cmap('plasma').copy()
cmap.set_bad('white')
im = ax.imshow(H, origin='lower', extent=(*Z_LIM, *R_LIM), aspect='auto',
               cmap=cmap, norm=LogNorm(1, V_MAX), interpolation='nearest')
ax.set_xlim(*Z_LIM)
ax.set_ylim(*R_LIM)
ax.set_xticks(X_TICKS)
ax.set_yticks(Y_TICKS)
ax.tick_params(axis='both', length=3.0, width=0.75, labelsize=8, pad=2.5, direction='out')
for s in ax.spines.values():
    s.set_linewidth(0.8)

fig.text(2638 / W, 1 - 1524 / H_PX, "z [mm]", ha='right', va='center', fontsize=16)
fig.text(53 / W, 1 - 70 / H_PX, "r [mm]", ha='center', va='top', rotation=90, fontsize=16)
fig.text(191 / W, 1 - 42 / H_PX, TITLE_LEFT, ha='left', va='center', fontsize=19.2)
fig.text(2612 / W, 1 - 41 / H_PX, TITLE_RIGHT, ha='right', va='center', fontsize=19.2)
fig.text(1442 / W, 1 - 185 / H_PX, NOTE_1, ha='center', va='center', fontsize=31.7)
fig.text(1442 / W, 1 - 292 / H_PX, NOTE_2, ha='center', va='center', fontsize=31.7)

cax = fig.add_axes(box(2668, 70, 2737, 1459))
cb = fig.colorbar(im, cax=cax)
cb.outline.set_linewidth(1.8)
cax.yaxis.set_major_locator(FixedLocator([1, 10, 100, 1000, 10000]))
cax.yaxis.set_major_formatter(FixedFormatter(['$10^{%d}$' % i for i in range(5)]))
cax.yaxis.set_minor_locator(FixedLocator([m * 10 ** e for e in range(5) for m in range(2, 10) if m * 10 ** e < V_MAX]))
cax.yaxis.set_minor_formatter(NullFormatter())
cax.tick_params(which='major', direction='in', length=9, width=0.75, labelsize=17.5, pad=3)
cax.tick_params(which='minor', direction='in', length=4.3, width=0.75)
fig.text(2870 / W, 1 - 67 / H_PX, "Hits", ha='center', va='top', rotation=90, fontsize=16)

fig.savefig('out.png', dpi=200, facecolor='white')
